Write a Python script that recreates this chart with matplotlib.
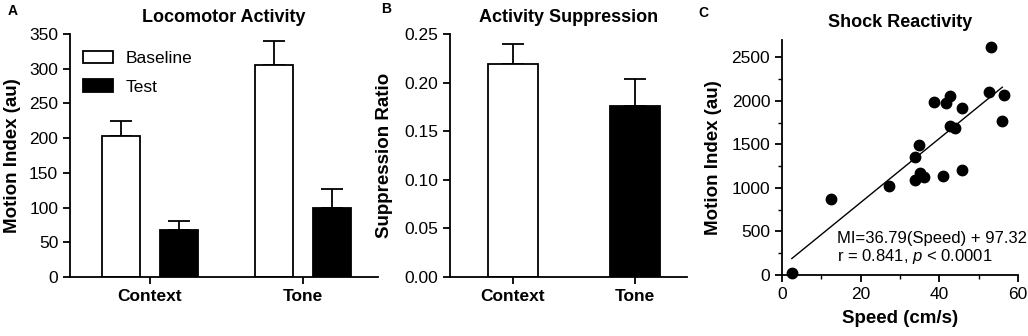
import numpy as np
import matplotlib
matplotlib.use("Agg")
import matplotlib.pyplot as plt
from matplotlib.ticker import MultipleLocator

plt.rcParams['font.family'] = ['Liberation Sans', 'DejaVu Sans']
plt.rcParams['mathtext.fontset'] = 'custom'
plt.rcParams['mathtext.rm'] = 'Liberation Sans'
plt.rcParams['mathtext.it'] = 'Liberation Sans:italic'

# panel A: locomotor activity
groups = ['Context', 'Tone']
baseline = [203, 305]
baseline_err = [22, 35]
test = [67, 100]
test_err = [13, 27]

# panel B: suppression ratio
supp = [0.219, 0.176]
supp_err = [0.021, 0.028]

# panel C: shock reactivity
speed = [2.5, 12.5, 27.3, 33.7, 34.9, 33.7, 35.1, 36.0, 41.0, 38.6,
         41.7, 42.7, 45.7, 42.7, 43.9, 45.8, 53.1, 52.5, 56.4, 56.0]
motion = [20, 875, 1021, 1357, 1491, 1097, 1174, 1128, 1139, 1984,
          1977, 2061, 1923, 1709, 1686, 1212, 2619, 2103, 2065, 1766]
slope, intercept = 36.79, 97.32
fit_x = [2.5, 56.0]

fig = plt.figure(figsize=(10.28, 3.36), dpi=100)
axA = fig.add_axes([0.0681, 0.1756, 0.2996, 0.7232])
axB = fig.add_axes([0.4377, 0.1756, 0.2305, 0.7232])
axC = fig.add_axes([0.7607, 0.1815, 0.2296, 0.6995])

tick_fs = 12.5
lab_fs = 13.5
title_fs = 13
cat_fs = 13.5


def style(ax):
    for s in ['top', 'right']:
        ax.spines[s].set_visible(False)
    for s in ['left', 'bottom']:
        ax.spines[s].set_linewidth(1.3)
    ax.tick_params(direction='out', length=5, width=1.3, labelsize=tick_fs)


# ---- A
x = np.arange(len(groups))
off, w = 0.188, 0.248
axA.bar(x - off, baseline, w, color='white', edgecolor='black', linewidth=1.3,
        label='Baseline', zorder=2)
axA.bar(x + off, test, w, color='black', edgecolor='black', linewidth=1.3,
        label='Test', zorder=2)
axA.errorbar(x - off, baseline, yerr=[[0, 0], baseline_err], fmt='none',
             ecolor='black', elinewidth=1.3, capsize=8, capthick=1.3, zorder=1)
axA.errorbar(x + off, test, yerr=[[0, 0], test_err], fmt='none',
             ecolor='black', elinewidth=1.3, capsize=8, capthick=1.3, zorder=1)
axA.set_xlim(-0.523, 1.49)
axA.set_ylim(0, 350)
axA.set_yticks(range(0, 351, 50))
axA.set_xticks(x)
axA.set_xticklabels(groups, fontweight='bold', fontsize=cat_fs)
axA.set_ylabel('Motion Index (au)', fontweight='bold', fontsize=lab_fs)
axA.yaxis.set_label_coords(-0.158, 0.5)
axA.set_title('Locomotor Activity', fontweight='bold', fontsize=title_fs, pad=9)
style(axA)
axA.legend(loc='upper left', bbox_to_anchor=(0.042, 0.93), frameon=False,
           fontsize=tick_fs, handlelength=1.73, handleheight=0.72,
           labelspacing=0.75, handletextpad=0.75, borderaxespad=0, borderpad=0)

# ---- B
xb = np.arange(len(groups))
axB.bar(xb, supp, 0.41, color=['white', 'black'], edgecolor='black',
        linewidth=1.3, zorder=2)
axB.errorbar(xb, supp, yerr=[[0, 0], supp_err], fmt='none', ecolor='black',
             elinewidth=1.3, capsize=8, capthick=1.3, zorder=1)
axB.set_xlim(-0.516, 1.426)
axB.set_ylim(0, 0.25)
axB.set_yticks(np.arange(0, 0.251, 0.05))
axB.set_yticklabels(['%.2f' % v for v in np.arange(0, 0.251, 0.05)])
axB.set_xticks(xb)
axB.set_xticklabels(groups, fontweight='bold', fontsize=cat_fs)
axB.set_ylabel('Suppression Ratio', fontweight='bold', fontsize=lab_fs)
axB.yaxis.set_label_coords(-0.24, 0.5)
axB.set_title('Activity Suppression', fontweight='bold', fontsize=title_fs, pad=9)
style(axB)

# ---- C
axC.plot(speed, motion, 'o', color='black', markersize=7.5, clip_on=False, zorder=3)
fx = np.array(fit_x)
axC.plot(fx, slope * fx + intercept, color='black', linewidth=1.0)
axC.set_xlim(0, 60)
axC.set_ylim(0, 2700)
axC.set_xticks([0, 20, 40, 60])
axC.set_yticks(range(0, 2501, 500))
axC.xaxis.set_minor_locator(MultipleLocator(10))
axC.yaxis.set_minor_locator(MultipleLocator(250))
axC.tick_params(which='minor', length=3, width=1.0)
axC.set_xlabel('Speed (cm/s)', fontweight='bold', fontsize=lab_fs)
axC.xaxis.set_label_coords(0.5, -0.15)
axC.set_ylabel('Motion Index (au)', fontweight='bold', fontsize=lab_fs)
axC.yaxis.set_label_coords(-0.254, 0.5)
axC.set_title('Shock Reactivity', fontweight='bold', fontsize=title_fs, pad=9)
style(axC)
axC.text(0.233, 0.155, 'MI=36.79(Speed) + 97.32', transform=axC.transAxes,
         fontsize=12, va='center')
axC.text(0.233, 0.08, 'r = 0.841, $p$ < 0.0001', transform=axC.transAxes,
         fontsize=12, va='center')

fig.text(0.007, 0.955, 'A', fontweight='bold', fontsize=10)
fig.text(0.371, 0.961, 'B', fontweight='bold', fontsize=10)
fig.text(0.679, 0.95, 'C', fontweight='bold', fontsize=10)

fig.savefig('out.png', dpi=100)
